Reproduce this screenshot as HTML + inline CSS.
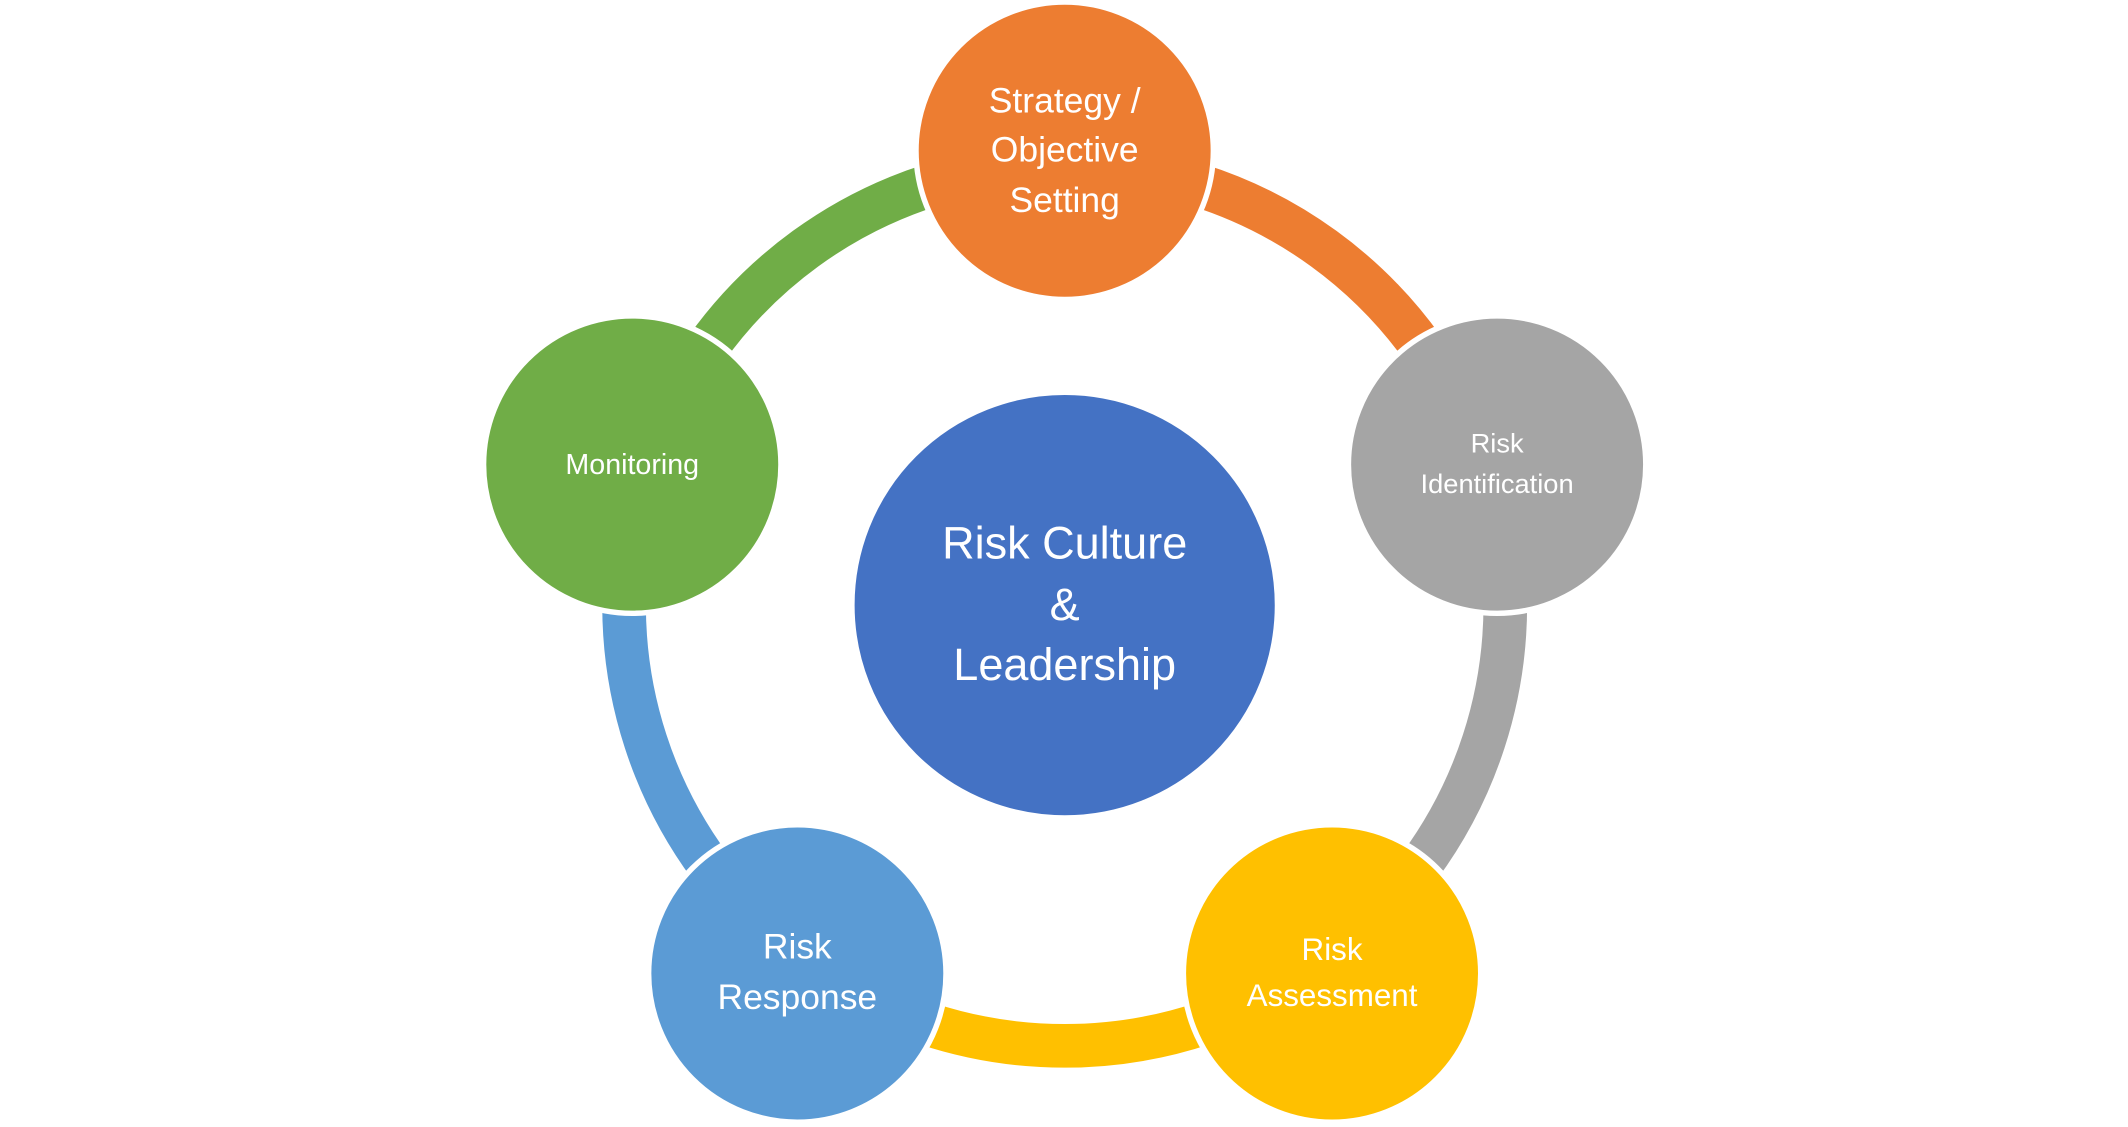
<!DOCTYPE html>
<html><head><meta charset="utf-8"><style>
html,body{margin:0;padding:0;background:#fff;width:2128px;height:1127px;overflow:hidden}
svg{display:block}
text{font-family:"Liberation Sans",sans-serif;fill:#fff;text-anchor:middle}
</style></head><body>
<svg width="2128" height="1127" viewBox="0 0 1560 826" preserveAspectRatio="none">
<g transform="translate(-3.5,-1.5)">
<g fill="none" stroke-width="32">
<path d="M784,122 A323,323 0 0 1 1091.2,345.2" stroke="#ED7D31"/>
<path d="M1091.2,345.2 A323,323 0 0 1 973.9,706.3" stroke="#A5A5A5"/>
<path d="M973.9,706.3 A323,323 0 0 1 594.1,706.3" stroke="#FFC000"/>
<path d="M594.1,706.3 A323,323 0 0 1 476.8,345.2" stroke="#5B9BD5"/>
<path d="M476.8,345.2 A323,323 0 0 1 784,122" stroke="#70AD47"/>
</g>
<g stroke="#fff" stroke-width="4">
<circle cx="784" cy="445" r="156" fill="#4472C4"/>
<circle cx="784" cy="112" r="109" fill="#ED7D31"/>
<circle cx="1101" cy="342" r="109" fill="#A5A5A5"/>
<circle cx="980" cy="715" r="109" fill="#FFC000"/>
<circle cx="588" cy="715" r="109" fill="#5B9BD5"/>
<circle cx="467" cy="342" r="109" fill="#70AD47"/>
</g>
<text x="784" y="84" font-size="26">Strategy /</text>
<text x="784" y="120" font-size="26">Objective</text>
<text x="784" y="157" font-size="26">Setting</text>
<text x="467" y="349" font-size="21">Monitoring</text>
<text x="1101" y="333" font-size="20">Risk</text>
<text x="1101" y="363" font-size="20">Identification</text>
<text x="980" y="705" font-size="23">Risk</text>
<text x="980" y="739" font-size="23">Assessment</text>
<text x="588" y="704" font-size="26">Risk</text>
<text x="588" y="741" font-size="26">Response</text>
<text x="784" y="411" font-size="33">Risk Culture</text>
<text x="784" y="456" font-size="33">&amp;</text>
<text x="784" y="500" font-size="33">Leadership</text>
</g>
</svg>
</body></html>
